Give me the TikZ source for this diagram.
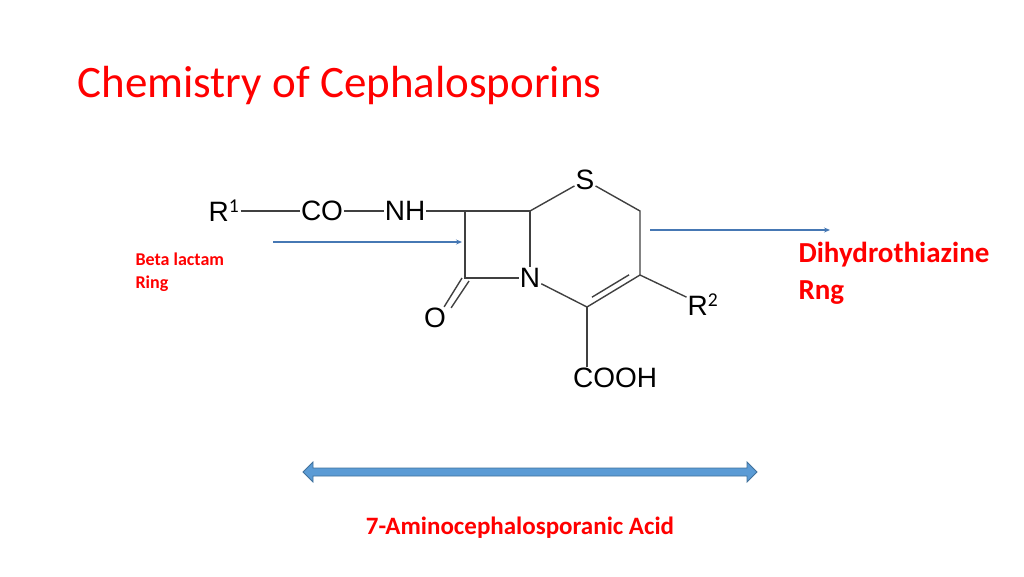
\documentclass[tikz,border=0pt]{standalone}
\usepackage{fontspec}
\setmainfont{Carlito}
\newfontfamily\chemfont{Liberation Sans}
\usetikzlibrary{calc,arrows.meta}

\begin{document}
\begin{tikzpicture}[x=1pt,y=-1pt,
atom/.style = {font=\chemfont\fontsize{28}{28}\selectfont, inner sep=1pt},
bond/.style = {draw=black!75, line width=1.4pt},
label/.style = {text=red, font=\bfseries, align=left, anchor=west},
pointer/.style = {draw={rgb,255:red,70;green,120;blue,180}, line width=1.6pt, -{Stealth[length=6pt,width=5pt]}}]
\useasboundingbox (0,0) rectangle (1024,576);

% title
\node [anchor=west, text=red, font=\fontsize{45}{45}\selectfont] (title) at (74,85) {Chemistry of Cephalosporins};

% atoms
\node [atom] (r1) at (224,211) {R$^{\mathrm{1}}$};
\node [atom] (co) at (322,211) {CO};
\node [atom] (nh) at (405,211) {NH};
\node [atom] (n) at (530,278) {N};
\node [atom] (o) at (435,318) {O};
\node [atom] (s) at (585,180) {S};
\node [atom] (r2) at (703,305) {R$^{\mathrm{2}}$};
\node [atom, anchor=west] (cooh) at (572,378) {COOH};
\coordinate (c7) at (465,211);
\coordinate (c6) at (530,211);
\coordinate (c8) at (465,278);
\coordinate (c2) at (640,211);
\coordinate (c3) at (640,275);
\coordinate (c4) at (587,307);

% bonds
\begin{scope}[every path/.style=bond]
\path (r1) -- (co);
\path (co) -- (nh);
\path (nh) -- (c7);
\path (c7) -- (c6);
\path (c6) -- (n);
\path (n) -- (c8) -- (c7);
\path ([xshift=-3pt]c8) -- ([xshift=-3pt]o.north east);
\path ([xshift=4pt,yshift=-3pt]c8) -- ([xshift=4pt,yshift=-1pt]o.north east);
\path (c6) -- (s);
\path (s) -- (c2) -- (c3) -- (c4);
\path ($(c3)!0.15!(c4)+(-3,-5)$) -- ($(c3)!0.85!(c4)+(-3,-5)$);
\path (n) -- (c4);
\path (c4) -- (cooh.north -| c4);
\path (c3) -- (r2);
\end{scope}

% labels and arrows
\node [label, font=\bfseries\fontsize{18}{23}\selectfont] (beta) at (132,272) {Beta lactam\\Ring};
\node [label, font=\bfseries\fontsize{29}{37}\selectfont] (dhtz) at (795,273) {Dihydrothiazine\\Rng};
\coordinate (betatail) at (273,242);
\coordinate (betahead) at (462,242);
\coordinate (dhtztail) at (650,230);
\coordinate (dhtzhead) at (830,230);
\path [pointer] (betatail) -- (betahead);
\path [pointer] (dhtztail) -- (dhtzhead);

% span of the nucleus
\coordinate (spanl) at (303,472);
\coordinate (spanr) at (757,472);
\draw [draw={rgb,255:red,65;green,113;blue,156}, fill={rgb,255:red,91;green,155;blue,213}, line width=0.8pt]
  (spanl) -- ++(10,-10) -- ++(0,6) -- ($(spanr)+(-10,-4)$) -- ++(0,-6) -- (spanr)
  -- ++(-10,10) -- ++(0,-6) -- ($(spanl)+(10,4)$) -- ++(0,6) -- cycle;
\node [text=red, font=\bfseries\fontsize{25}{25}\selectfont] (acid) at (520,528) {7-Aminocephalosporanic Acid};
\end{tikzpicture}
\end{document}
